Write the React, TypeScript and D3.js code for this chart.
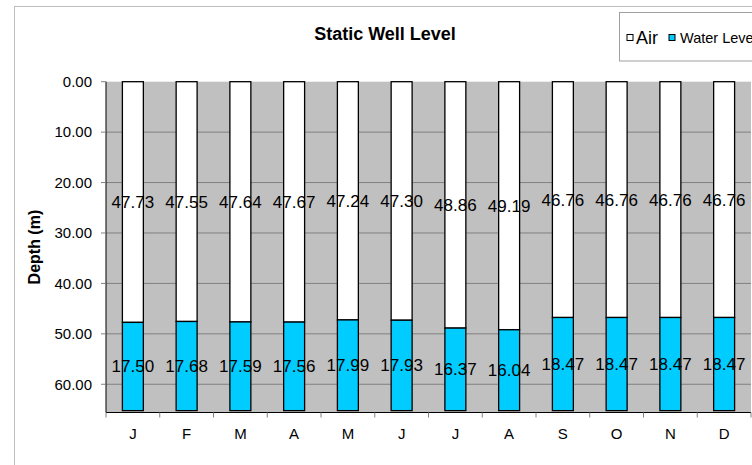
import React, { useEffect, useRef } from 'react';
import * as d3 from 'd3';

const months = ['J', 'F', 'M', 'A', 'M', 'J', 'J', 'A', 'S', 'O', 'N', 'D'];
const airDepth = [47.73, 47.55, 47.64, 47.67, 47.24, 47.3, 48.86, 49.19, 46.76, 46.76, 46.76, 46.76];
const waterLevel = [17.5, 17.68, 17.59, 17.56, 17.99, 17.93, 16.37, 16.04, 18.47, 18.47, 18.47, 18.47];
const depthTicks = [0, 10, 20, 30, 40, 50, 60];

const StaticWellChart = () => {
  const svgRef = useRef<SVGSVGElement | null>(null);

  useEffect(() => {
    const svg = d3.select(svgRef.current);
    const width = 752;
    const height = 465;
    const font = '"Liberation Sans", Arial, sans-serif';
    const plot = { left: 106, right: 751, top: 81.7, bottom: 412.5 };

    svg.selectAll('*').remove();

    // Outer chart frame (runs past the window edge)
    svg.append('rect')
      .attr('x', 14.5).attr('y', 6.5)
      .attr('width', width + 20).attr('height', height + 20)
      .attr('fill', '#fff').attr('stroke', '#bdbdbd');

    const x = d3.scaleBand().domain(months.map((m, i) => String(i))).range([plot.left, plot.right]).padding(0);
    const y = d3.scaleLinear().domain([0, 65.6]).range([plot.top, plot.bottom]); // depth grows downward
    const step = x.step();
    const barW = step * 0.39;

    // Plot background
    svg.append('rect')
      .attr('x', plot.left).attr('y', plot.top)
      .attr('width', plot.right - plot.left).attr('height', plot.bottom - plot.top)
      .attr('fill', '#c0c0c0');

    // Grid lines
    svg.append('g')
      .selectAll('line')
      .data(depthTicks.slice(1))
      .enter()
      .append('line')
      .attr('x1', plot.left).attr('x2', plot.right)
      .attr('y1', d => y(d)).attr('y2', d => y(d))
      .attr('stroke', '#808080').attr('stroke-width', 1);

    // Stacked bars: air on top, water below
    const bars = svg.append('g');
    months.forEach((m, i) => {
      const bx = (x(String(i)) as number) + (step - barW) / 2;
      bars.append('rect')
        .attr('x', bx).attr('y', y(0))
        .attr('width', barW).attr('height', y(airDepth[i]) - y(0))
        .attr('fill', '#fff').attr('stroke', '#000').attr('stroke-width', 1.3);
      bars.append('rect')
        .attr('x', bx).attr('y', y(airDepth[i]))
        .attr('width', barW).attr('height', y(airDepth[i] + waterLevel[i]) - y(airDepth[i]))
        .attr('fill', '#00ccff').attr('stroke', '#000').attr('stroke-width', 1.3);
    });

    // Axes
    svg.append('line')
      .attr('x1', plot.left).attr('x2', plot.left)
      .attr('y1', plot.top).attr('y2', plot.bottom)
      .attr('stroke', '#000');
    svg.append('line')
      .attr('x1', plot.left).attr('x2', plot.right)
      .attr('y1', plot.bottom).attr('y2', plot.bottom)
      .attr('stroke', '#000');

    // Y ticks + labels
    const yt = svg.append('g');
    depthTicks.forEach(t => {
      yt.append('line')
        .attr('x1', plot.left - 5).attr('x2', plot.left)
        .attr('y1', y(t)).attr('y2', y(t))
        .attr('stroke', '#808080');
      yt.append('text')
        .attr('x', 92).attr('y', y(t))
        .attr('dy', '0.35em')
        .attr('text-anchor', 'end')
        .attr('font-family', font).attr('font-size', 15)
        .text(t.toFixed(2));
    });

    // X ticks + labels
    const xt = svg.append('g');
    d3.range(months.length + 1).forEach(i => {
      const tx = plot.left + i * step;
      xt.append('line')
        .attr('x1', tx).attr('x2', tx)
        .attr('y1', plot.bottom).attr('y2', plot.bottom + 5)
        .attr('stroke', '#808080');
    });
    months.forEach((m, i) => {
      xt.append('text')
        .attr('x', (x(String(i)) as number) + step / 2)
        .attr('y', 439)
        .attr('text-anchor', 'middle')
        .attr('font-family', font).attr('font-size', 15)
        .text(m);
    });

    // Data labels centred in each segment
    const lbl = svg.append('g')
      .attr('font-family', font).attr('font-size', 17)
      .attr('text-anchor', 'middle');
    months.forEach((m, i) => {
      const cx = (x(String(i)) as number) + step / 2;
      lbl.append('text')
        .attr('x', cx).attr('y', y(airDepth[i] / 2)).attr('dy', '0.35em')
        .text(airDepth[i].toFixed(2));
      lbl.append('text')
        .attr('x', cx).attr('y', y(airDepth[i] + waterLevel[i] / 2)).attr('dy', '0.35em')
        .text(waterLevel[i].toFixed(2));
    });

    // Title
    svg.append('text')
      .attr('x', 385).attr('y', 40)
      .attr('text-anchor', 'middle')
      .attr('font-family', font).attr('font-size', 18).attr('font-weight', 'bold')
      .text('Static Well Level');

    // Y axis title
    svg.append('text')
      .attr('transform', `translate(40,${(plot.top + plot.bottom) / 2}) rotate(-90)`)
      .attr('text-anchor', 'middle')
      .attr('font-family', font).attr('font-size', 16).attr('font-weight', 'bold')
      .text('Depth (m)');

    // Legend (clipped by the window edge, as in the original)
    const lg = svg.append('g');
    lg.append('rect')
      .attr('x', 619.5).attr('y', 12.5)
      .attr('width', 200).attr('height', 48.5)
      .attr('fill', '#fff').attr('stroke', '#a0a0a0');
    lg.append('rect')
      .attr('x', 627).attr('y', 34.5).attr('width', 6).attr('height', 6)
      .attr('fill', '#fff').attr('stroke', '#000');
    lg.append('text')
      .attr('x', 636).attr('y', 44)
      .attr('font-family', font).attr('font-size', 18)
      .text('Air');
    lg.append('rect')
      .attr('x', 669).attr('y', 34.5).attr('width', 6).attr('height', 6)
      .attr('fill', '#00ccff').attr('stroke', '#000');
    lg.append('text')
      .attr('x', 680).attr('y', 42.7)
      .attr('font-family', font).attr('font-size', 14.5)
      .text('Water Level');
  }, []);

  return (
    <svg
      ref={svgRef}
      width={752}
      height={465}
      style={{ position: 'absolute', left: 0, top: 0, background: '#fff' }}
    ></svg>
  );
};

export default function App() {
  return <StaticWellChart />;
}
